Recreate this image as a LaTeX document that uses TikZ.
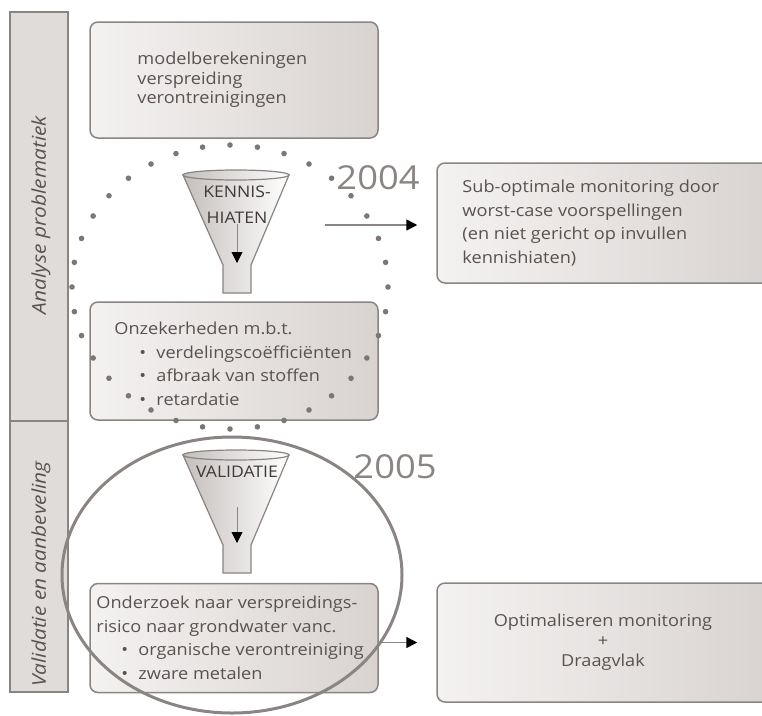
\documentclass[tikz,border=0pt]{standalone}
\usepackage{fontspec}
\setmainfont{Open Sans}[FakeStretch=1.1]
\usepackage{tikz}
\usetikzlibrary{arrows.meta,positioning,calc}
\definecolor{linegray}{HTML}{8A8482}
\definecolor{dotgray}{HTML}{7C7674}
\definecolor{textgray}{HTML}{5A5250}
\definecolor{barfill}{HTML}{E0DCDA}
\definecolor{boxlight}{HTML}{F4F2F1}
\definecolor{boxdark}{HTML}{D8D3D1}
\definecolor{funneldark}{HTML}{C4BFBD}
\newcommand\itm[1]{\hspace*{25pt}\makebox[17pt][l]{\textbullet}#1}
\tikzset{
    sidebar/.style={
        draw=linegray,
        line width=1.5pt,
        fill=barfill,
        minimum width=58pt
    },
    sidelabel/.style={
        rotate=90,
        font=\fontsize{19}{20}\selectfont\itshape,
        text=textgray
    },
    box/.style={
        draw=linegray,
        line width=1.5pt,
        rounded corners=8pt,
        left color=boxlight,
        right color=boxdark
    },
    boxtext/.style={
        font=\fontsize{16.5}{23.5}\selectfont,
        text=textgray,
        align=left,
        inner sep=0pt
    },
    year/.style={
        font=\fontsize{33}{40}\selectfont,
        text=linegray
    },
    funnel/.style={
        draw=linegray,
        line width=1.2pt,
        left color=funneldark,
        right color=white
    },
    funneltext/.style={
        font=\fontsize{16}{26}\selectfont,
        text=textgray!70!black,
        align=center,
        inner sep=0pt
    },
    flow/.style={
        -{Triangle[length=11pt,width=11pt,color=black]},
        draw=linegray,
        line width=1.5pt
    },
    funnelarrow/.style={
        -{Triangle[length=11pt,width=11pt,color=black]},
        draw=linegray,
        line width=0.8pt
    },
    dotring/.style={
        fill=dotgray
    },
    ring/.style={
        draw=linegray,
        line width=3pt
    }
}
\begin{document}
\begin{tikzpicture}[x=1pt,y=-1pt]

    \clip (0,0) rectangle (762,715);

    % Zijbalk
    \node[sidebar, minimum height=409pt] (bar top) at (39,216.5) {};
    \node[sidebar, minimum height=271pt] (bar bottom) at (39,556.5) {};
    \node[sidelabel] (label top) at (41,215) {Analyse problematiek};
    \node[sidelabel] (label bottom) at (41,574) {Validatie en aanbeveling};

    % Blokken
    \node[box, minimum width=288pt, minimum height=116pt] (b1) at (234,80) {};
    \node[box, minimum width=288pt, minimum height=118pt] (b2) at (234,361) {};
    \node[box, minimum width=340pt, minimum height=120pt] (b3) at (607,223) {};
    \node[box, minimum width=288pt, minimum height=109pt] (b4) at (234,638) {};
    \node[box, minimum width=340pt, minimum height=119pt] (b5) at (607,642.5) {};

    % Teksten
    \node[boxtext, anchor=west, font=\fontsize{16.5}{19.5}\selectfont]
        (t1) at ([xshift=48pt]b1.west)
        {modelberekeningen\\verspreiding\\verontreinigingen};

    \node[boxtext, anchor=west]
        (t2) at ([xshift=25pt,yshift=-3pt]b2.west)
        {Onzekerheden m.b.t.\\
         \itm{verdelingscoëfficiënten}\\
         \itm{afbraak van stoffen}\\
         \itm{retardatie}};

    \node[boxtext, anchor=west]
        (t3) at ([xshift=26pt]b3.west)
        {Sub-optimale monitoring door\\
         worst-case voorspellingen\\
         (en niet gericht op invullen\\
         kennishiaten)};

    \node[boxtext, anchor=west]
        (t4) at ([xshift=7pt]b4.west)
        {Onderzoek naar verspreidings-\\
         risico naar grondwater vanc.\\
         \itm{organische verontreiniging}\\
         \itm{zware metalen}};

    \node[boxtext, align=center, font=\fontsize{16.5}{20}\selectfont]
        (t5) at (603,642)
        {Optimaliseren monitoring\\+\\Draagvlak};

    % Trechter kennishiaten
    \draw[funnel]
        (183,175) -- (223,265) -- (223,293) -- (251,293)
        -- (251,265) -- (289,175) -- cycle;
    \draw[funnel]
        (236,175) ellipse [x radius=53, y radius=5];
    \node[funneltext] (kennis) at (237,205) {KENNIS-\\HIATEN};
    \coordinate (kennis tip) at (237,263);
    \draw[funnelarrow] (kennis.south) -- (kennis tip);

    % Trechter validatie
    \draw[funnel]
        (183,455) -- (223,545) -- (223,573) -- (251,573)
        -- (251,545) -- (289,455) -- cycle;
    \draw[funnel]
        (236,455) ellipse [x radius=53, y radius=5];
    \node[funneltext] (validatie) at (237,472) {VALIDATIE};
    \coordinate (validatie top) at (237,507);
    \coordinate (validatie tip) at (237,543);
    \draw[funnelarrow] (validatie top) -- (validatie tip);

    % Pijlen
    \coordinate (a start) at (325,225);
    \draw[flow, shorten >=19pt] (a start) -- (a start -| b3.west);
    \draw[flow, shorten >=19pt] (b4.east |- b5.west) -- (b5.west);

    % Stippelring 2004
    \foreach \a in {0,10,...,350}
        \fill[dotring] ({230+158*cos(\a)},{287+142*sin(\a)}) circle (2.8pt);

    % Ring 2005
    \draw[ring] (232,575) ellipse [x radius=170, y radius=138];

    % Jaartallen
    \node[year] (y2004) at (378,178) {2004};
    \node[year] (y2005) at (395,467) {2005};

\end{tikzpicture}
\end{document}
